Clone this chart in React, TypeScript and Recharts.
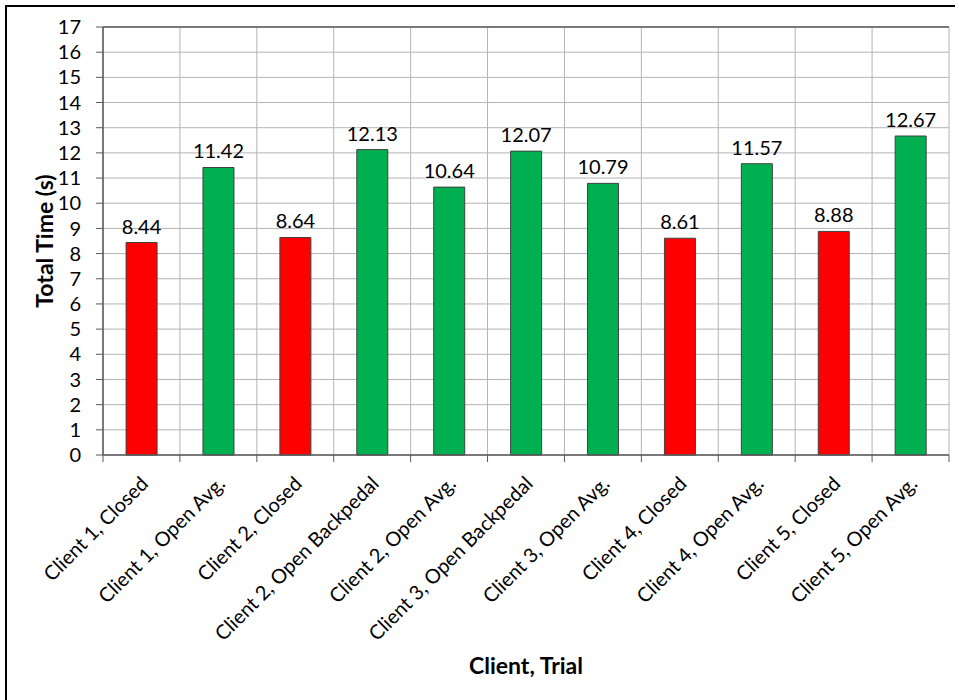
import React from "react";
import {
  BarChart,
  Bar,
  Cell,
  CartesianGrid,
  XAxis,
  YAxis,
  LabelList,
  Label,
  ReferenceLine,
} from "recharts";

const trials = [
  "Client 1, Closed",
  "Client 1, Open Avg.",
  "Client 2, Closed",
  "Client 2, Open Backpedal",
  "Client 2, Open Avg.",
  "Client 3, Open Backpedal",
  "Client 3, Open Avg.",
  "Client 4, Closed",
  "Client 4, Open Avg.",
  "Client 5, Closed",
  "Client 5, Open Avg.",
];
const totalTimes = [8.44, 11.42, 8.64, 12.13, 10.64, 12.07, 10.79, 8.61, 11.57, 8.88, 12.67];
const doorKinds = ["closed", "open", "closed", "open", "open", "open", "open", "closed", "open", "closed", "open"];
const yTicks = [0, 1, 2, 3, 4, 5, 6, 7, 8, 9, 10, 11, 12, 13, 14, 15, 16, 17];

const kindColors: Record<string, string> = { closed: "#ff0000", open: "#00b050" };

const data = trials.map((name, i) => ({ name, time: totalTimes[i], kind: doorKinds[i] }));

const FONT = "Lato, 'Open Sans', sans-serif";
const AXIS = "#595959";
const GRID = "#b4b4b4";

// category label rotated 45°, plus tick marks on the band edges
const TrialTick = (props: any) => {
  const { x, y, payload, index } = props;
  const half = payload?.offset ?? 0;
  const last = index === trials.length - 1;
  const ax = x + 8;
  const ay = y + 22;
  return (
    <g>
      <line x1={x - half} y1={y - 8} x2={x - half} y2={y - 1} stroke={AXIS} />
      {last && <line x1={x + half} y1={y - 8} x2={x + half} y2={y - 1} stroke={AXIS} />}
      <text
        x={ax}
        y={ay}
        transform={`rotate(-45, ${ax}, ${ay})`}
        textAnchor="end"
        fontSize={20}
        fontFamily={FONT}
        fill="#000"
      >
        {payload.value}
      </text>
    </g>
  );
};

const bandEdges = ({ offset }: any) =>
  Array.from({ length: trials.length + 1 }, (_, i) => offset.left + (i * offset.width) / trials.length);

export default function App() {
  return (
    <div style={{ position: "absolute", left: 0, top: 0, width: 959, height: 700, background: "#fff", overflow: "hidden" }}>
      <style>{`body{margin:0}`}</style>
      <div
        style={{
          position: "absolute",
          left: 5,
          top: 5,
          width: 948,
          height: 720,
          borderTop: "2px solid #000",
          borderLeft: "2px solid #000",
        }}
      />
      <BarChart
        width={959}
        height={700}
        data={data}
        margin={{ top: 27, right: 10, bottom: 45, left: 0 }}
        barCategoryGap="30%"
        style={{ position: "absolute", left: 0, top: 0 }}
      >
        <CartesianGrid stroke={GRID} verticalCoordinatesGenerator={bandEdges} />
        <XAxis
          dataKey="name"
          interval={0}
          height={200}
          tickLine={false}
          axisLine={{ stroke: AXIS, strokeWidth: 1.5 }}
          tick={<TrialTick />}
        >
          <Label
            value="Client, Trial"
            position="bottom"
            offset={3}
            style={{ fontFamily: FONT, fontSize: 23, fontWeight: 700, fill: "#000" }}
          />
        </XAxis>
        <YAxis
          width={103}
          domain={[0, 17]}
          ticks={yTicks}
          interval={0}
          tickSize={7}
          tickMargin={15}
          tickLine={{ stroke: AXIS }}
          axisLine={{ stroke: AXIS, strokeWidth: 1.5 }}
          tick={{ fontSize: 20, fontFamily: FONT, fill: "#000" }}
        >
          <Label
            value="Total Time (s)"
            angle={-90}
            position="center"
            dx={-7}
            style={{ fontFamily: FONT, fontSize: 23, fontWeight: 700, fill: "#000", textAnchor: "middle" }}
          />
        </YAxis>
        <YAxis
          yAxisId="frame"
          orientation="right"
          width={0}
          domain={[0, 17]}
          tick={false}
          tickLine={false}
          axisLine={{ stroke: AXIS, strokeWidth: 1.5 }}
        />
        <ReferenceLine y={17} stroke={AXIS} strokeWidth={1.5} />
        <Bar dataKey="time" stroke="#404040" strokeWidth={1} isAnimationActive={false}>
          {data.map((d) => (
            <Cell key={d.name} fill={kindColors[d.kind]} />
          ))}
          <LabelList
            dataKey="time"
            position="top"
            offset={9}
            formatter={(v: any) => Number(v).toFixed(2)}
            style={{ fontFamily: FONT, fontSize: 20, fill: "#000" }}
          />
        </Bar>
      </BarChart>
    </div>
  );
}
